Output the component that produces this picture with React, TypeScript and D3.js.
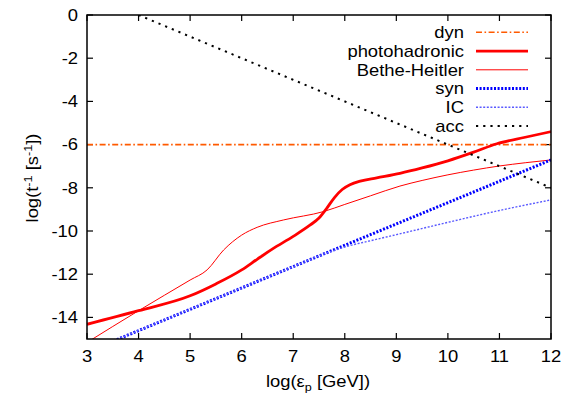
import React from "react";
import * as d3 from "d3";

const W = 575;
const H = 396;
const M = { left: 87, top: 15, right: 551, bottom: 339 };

const xTicks = [3, 4, 5, 6, 7, 8, 9, 10, 11, 12];
const yTicks = [0, -2, -4, -6, -8, -10, -12, -14];

const dynX = [3, 12];
const dynY = [-6, -6];

const photoX = [3, 4, 5, 5.5, 6, 6.3, 6.6, 7, 7.33, 7.5, 7.65, 7.8, 7.95, 8.1, 8.3, 8.62, 9.07, 9.5, 10, 10.5, 10.95, 11.5, 12];
const photoY = [-14.32, -13.69, -13.0, -12.45, -11.8, -11.31, -10.83, -10.25, -9.72, -9.4, -8.95, -8.45, -8.08, -7.86, -7.69, -7.54, -7.33, -7.08, -6.75, -6.35, -5.96, -5.66, -5.4];

const bhX = [3, 4, 5, 5.33, 5.65, 6, 6.3, 6.81, 7.59, 8, 8.5, 9.07, 9.5, 10, 10.5, 11, 11.5, 12];
const bhY = [-15.16, -13.69, -12.27, -11.8, -10.88, -10.19, -9.83, -9.49, -9.1, -8.77, -8.37, -7.92, -7.66, -7.4, -7.18, -6.99, -6.84, -6.71];

const synX = [3, 12];
const synY = [-15.6, -6.71];

const icX = [3, 5, 7, 7.6, 8, 8.5, 9, 10, 11, 12];
const icY = [-15.6, -13.62, -11.65, -11.06, -10.74, -10.45, -10.17, -9.6, -9.05, -8.56];

const accX = [4, 12];
const accY = [0, -8];

const x = d3.scaleLinear().domain([3, 12]).range([M.left, M.right]);
const y = d3.scaleLinear().domain([-15, 0]).range([M.bottom, M.top]);

const line = d3
  .line<[number, number]>()
  .x((d) => x(d[0]))
  .y((d) => y(d[1]))
  .curve(d3.curveMonotoneX);

const zip = (a: number[], b: number[]): [number, number][] => a.map((v, i) => [v, b[i]]);

const FONT = "'Liberation Sans', Arial, Helvetica, sans-serif";
const SX = 1.15;

const series = [
  { name: "dyn", xs: dynX, ys: dynY, color: "#ff5a00", width: 1.6, dash: "6,2.5,1.6,2.5" },
  { name: "photohadronic", xs: photoX, ys: photoY, color: "#ff0000", width: 2.8, dash: "" },
  { name: "Bethe-Heitler", xs: bhX, ys: bhY, color: "#ff0000", width: 1, dash: "" },
  { name: "syn", xs: synX, ys: synY, color: "#0000ff", width: 3, dash: "2,1.6" },
  { name: "IC", xs: icX, ys: icY, color: "#5a5aff", width: 1.4, dash: "2,1.6" },
  { name: "acc", xs: accX, ys: accY, color: "#000000", width: 2, dash: "2.2,5" },
];

function T({ x: tx, y: ty, anchor, children, size = 16 }: any) {
  return (
    <text
      transform={`translate(${tx},${ty}) scale(${SX},1)`}
      textAnchor={anchor}
      fontFamily={FONT}
      fontSize={size}
      fill="#000"
    >
      {children}
    </text>
  );
}

export default function App() {
  const legendTextX = 464;
  const legendLineX0 = 476;
  const legendLineX1 = 528;
  const legendY0 = 32.3;
  const legendDy = 18.75;
  return (
    <svg width={W} height={H} style={{ position: "absolute", left: 0, top: 0, background: "#fff" }}>
      <defs>
        <clipPath id="plotclip">
          <rect x={M.left} y={M.top} width={M.right - M.left} height={M.bottom - M.top} />
        </clipPath>
      </defs>
      <rect width={W} height={H} fill="#fff" />
      {xTicks.map((t) => (
        <g key={"xt" + t}>
          <line x1={x(t)} x2={x(t)} y1={M.bottom} y2={M.bottom - 6} stroke="#000" strokeWidth={1.2} />
          <line x1={x(t)} x2={x(t)} y1={M.top} y2={M.top + 6} stroke="#000" strokeWidth={1.2} />
          <T x={x(t)} y={361.5} anchor="middle">{String(t)}</T>
        </g>
      ))}
      {yTicks.map((t) => (
        <g key={"yt" + t}>
          <line x1={M.left} x2={M.left + 6} y1={y(t)} y2={y(t)} stroke="#000" strokeWidth={1.2} />
          <line x1={M.right} x2={M.right - 6} y1={y(t)} y2={y(t)} stroke="#000" strokeWidth={1.2} />
          <T x={78} y={y(t) + 5.8} anchor="end">{String(t)}</T>
        </g>
      ))}
      <g clipPath="url(#plotclip)">
        {series.map((s) => (
          <path
            key={s.name}
            d={line(zip(s.xs, s.ys)) || ""}
            fill="none"
            stroke={s.color}
            strokeWidth={s.width}
            strokeDasharray={s.dash || undefined}
          />
        ))}
      </g>
      <rect
        x={M.left}
        y={M.top}
        width={M.right - M.left}
        height={M.bottom - M.top}
        fill="none"
        stroke="#000"
        strokeWidth={1.5}
      />
      {series.map((s, i) => {
        const ly = legendY0 + i * legendDy;
        return (
          <g key={"lg" + s.name}>
            <T x={legendTextX} y={ly + 5.8} anchor="end">{s.name}</T>
            <line
              x1={legendLineX0}
              x2={legendLineX1}
              y1={ly}
              y2={ly}
              stroke={s.color}
              strokeWidth={s.width}
              strokeDasharray={s.dash || undefined}
            />
          </g>
        );
      })}
      <text
        transform={`translate(318,386.5) scale(${SX},1)`}
        textAnchor="middle"
        fontFamily={FONT}
        fontSize={16}
      >
        log(ε<tspan fontSize={11} dy={4}>p</tspan>
        <tspan dy={-4}> [GeV])</tspan>
      </text>
      <text
        transform={`translate(38,178) rotate(-90) scale(${SX},1)`}
        textAnchor="middle"
        fontFamily={FONT}
        fontSize={16}
      >
        log(t<tspan fontSize={11} dy={-6}>-1</tspan>
        <tspan dy={6}> [s</tspan>
        <tspan fontSize={11} dy={-6}>-1</tspan>
        <tspan dy={6}>])</tspan>
      </text>
    </svg>
  );
}
